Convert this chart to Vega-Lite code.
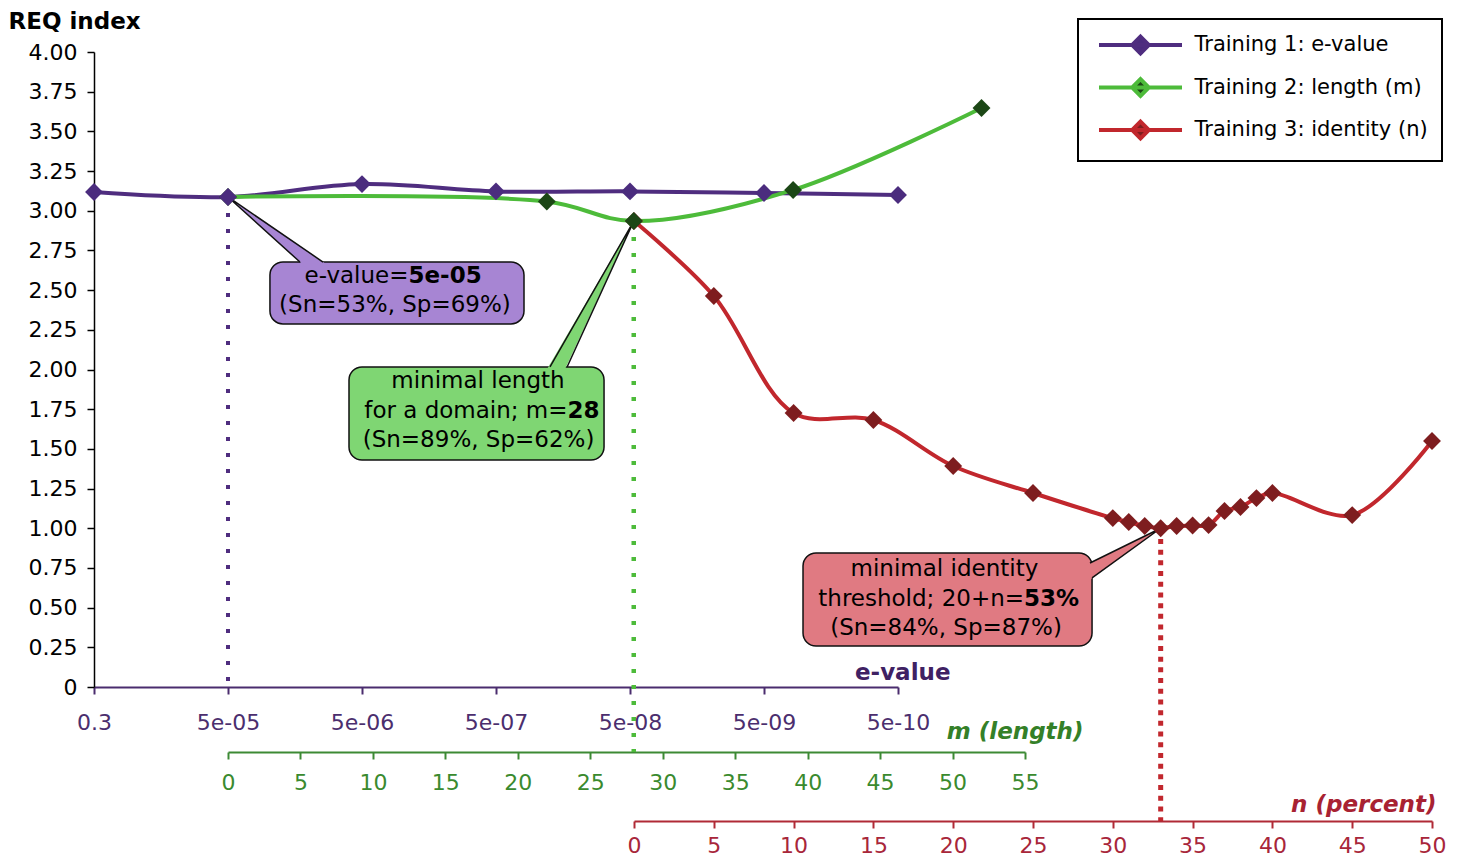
{
  "$schema": "https://vega.github.io/schema/vega-lite/v6.json",
  "width": 1338,
  "height": 635,
  "autosize": {"type": "none"},
  "padding": {"left": 94, "top": 52, "right": 26, "bottom": 171},
  "background": "white",
  "config": {
    "view": {"stroke": null},
    "font": "DejaVu Sans",
    "axis": {"grid": false},
    "axisY": {"tickSize": 7, "tickWidth": 1.5, "tickColor": "black", "domainColor": "black", "domainWidth": 1.5,
      "labelColor": "black", "labelFontSize": 22, "labelPadding": 10, "labelFlush": false, "labelOverlap": false,
      "titleAngle": 0, "titleAlign": "left", "titleX": -86, "titleY": -24,
      "titleBaseline": "alphabetic", "titleFontSize": 23, "titleFontWeight": "bold", "titleColor": "black"}
  },
  "datasets": {
    "t1": [
      {"ei": 0, "req": 3.118, "series": "Training 1: e-value"},
      {"ei": 1, "req": 3.087, "series": "Training 1: e-value"},
      {"ei": 2, "req": 3.168, "series": "Training 1: e-value"},
      {"ei": 3, "req": 3.122, "series": "Training 1: e-value"},
      {"ei": 4, "req": 3.122, "series": "Training 1: e-value"},
      {"ei": 5, "req": 3.112, "series": "Training 1: e-value"},
      {"ei": 6, "req": 3.099, "series": "Training 1: e-value"}
    ],
    "t2": [
      {"m": 0, "req": 3.087, "series": "Training 2: length (m)"},
      {"m": 22, "req": 3.058, "series": "Training 2: length (m)"},
      {"m": 28, "req": 2.935, "series": "Training 2: length (m)"},
      {"m": 39, "req": 3.131, "series": "Training 2: length (m)"},
      {"m": 52, "req": 3.647, "series": "Training 2: length (m)"}
    ],
    "t3": [
      {"n": 0, "req": 2.935, "series": "Training 3: identity (n)"},
      {"n": 5, "req": 2.463, "series": "Training 3: identity (n)"},
      {"n": 10, "req": 1.726, "series": "Training 3: identity (n)"},
      {"n": 15, "req": 1.682, "series": "Training 3: identity (n)"},
      {"n": 20, "req": 1.392, "series": "Training 3: identity (n)"},
      {"n": 25, "req": 1.222, "series": "Training 3: identity (n)"},
      {"n": 30, "req": 1.064, "series": "Training 3: identity (n)"},
      {"n": 31, "req": 1.039, "series": "Training 3: identity (n)"},
      {"n": 32, "req": 1.014, "series": "Training 3: identity (n)"},
      {"n": 33, "req": 1.0, "series": "Training 3: identity (n)"},
      {"n": 34, "req": 1.014, "series": "Training 3: identity (n)"},
      {"n": 35, "req": 1.017, "series": "Training 3: identity (n)"},
      {"n": 36, "req": 1.02, "series": "Training 3: identity (n)"},
      {"n": 37, "req": 1.109, "series": "Training 3: identity (n)"},
      {"n": 38, "req": 1.134, "series": "Training 3: identity (n)"},
      {"n": 39, "req": 1.19, "series": "Training 3: identity (n)"},
      {"n": 40, "req": 1.222, "series": "Training 3: identity (n)"},
      {"n": 45, "req": 1.083, "series": "Training 3: identity (n)"},
      {"n": 50, "req": 1.55, "series": "Training 3: identity (n)"}
    ]
  },
  "resolve": {"scale": {"x": "independent"}, "axis": {"x": "independent"}},
  "layer": [
    {
      "data": {"name": "t3"},
      "mark": {"type": "line", "interpolate": "catmull-rom", "strokeWidth": 4},
      "encoding": {
        "x": {"field": "n", "type": "quantitative",
          "scale": {"domain": [0, 50], "range": [540, 1338], "nice": false, "zero": false},
          "axis": {"orient": "bottom", "offset": 134, "values": [0,5,10,15,20,25,30,35,40,45,50],
            "tickSize": 7, "tickWidth": 2, "tickColor": "#b02a36", "domainColor": "#b02a36", "domainWidth": 2,
            "labelColor": "#a8263a", "labelFontSize": 22, "labelPadding": 7, "labelFlush": false, "labelOverlap": false,
            "title": "n (percent)", "titleFontSize": 23, "titleFontWeight": "bold", "titleFontStyle": "italic",
            "titleColor": "#a82232", "titleAlign": "right", "titleAnchor": "end", "titleX": 1342, "titleY": -10, "titleBaseline": "alphabetic"}},
        "y": {"field": "req", "type": "quantitative", "scale": {"domain": [0, 4], "nice": false},
          "axis": {"orient": "left", "values": [0,0.25,0.5,0.75,1,1.25,1.5,1.75,2,2.25,2.5,2.75,3,3.25,3.5,3.75,4], "labelExpr": "datum.value == 0 ? '0' : format(datum.value, '.2f')", "title": "REQ index"}},
        "stroke": {"field": "series", "type": "nominal",
          "scale": {"domain": ["Training 1: e-value", "Training 2: length (m)", "Training 3: identity (n)"], "range": ["#4f2d7f", "#4dbb3a", "#c1272d"]},
          "legend": {"title": null, "orient": "none", "legendX": 984, "legendY": -33,
            "symbolType": "M-4.15,0L4.15,0M0,-0.83L0.83,0L0,0.83L-0.83,0Z", "symbolSize": 400, "symbolStrokeWidth": 4,
            "symbolOffset": 36.5,
            "labelFontSize": 21, "labelColor": "black", "labelOffset": 42, "labelLimit": 500,
            "padding": 14, "rowPadding": 8.5, "strokeColor": "black", "fillColor": "white",
            "encode": {
              "symbols": {"update": {"fill": {"signal": "scale('fill', datum.value)"}, "opacity": {"value": 1}}},
              "legend": {"update": {"strokeWidth": {"value": 2}}}
            }}}
      }
    },
    {
      "data": {"name": "t1"},
      "mark": {"type": "line", "interpolate": "catmull-rom", "strokeWidth": 4},
      "encoding": {
        "x": {"field": "ei", "type": "quantitative",
          "scale": {"domain": [0, 6], "range": [0, 804], "nice": false, "zero": false},
          "axis": {"orient": "bottom", "offset": 0, "values": [0,1,2,3,4,5,6],
            "labelExpr": "['0.3','5e-05','5e-06','5e-07','5e-08','5e-09','5e-10'][datum.value]",
            "tickSize": 7, "tickWidth": 2, "tickColor": "#4a2c6e", "domainColor": "#4a2c6e", "domainWidth": 2,
            "labelColor": "#4b2e6e", "labelFontSize": 22, "labelPadding": 18, "labelFlush": false, "labelOverlap": false,
            "title": "e-value", "titleFontSize": 23, "titleFontWeight": "bold",
            "titleColor": "#3f2163", "titleAlign": "right", "titleAnchor": "end", "titleX": 856, "titleY": -8, "titleBaseline": "alphabetic"}},
        "y": {"field": "req", "type": "quantitative", "scale": {"domain": [0, 4], "nice": false},
          "axis": {"orient": "left", "values": [0,0.25,0.5,0.75,1,1.25,1.5,1.75,2,2.25,2.5,2.75,3,3.25,3.5,3.75,4], "labelExpr": "datum.value == 0 ? '0' : format(datum.value, '.2f')", "title": "REQ index"}},
        "stroke": {"field": "series", "type": "nominal",
          "scale": {"domain": ["Training 1: e-value", "Training 2: length (m)", "Training 3: identity (n)"], "range": ["#4f2d7f", "#4dbb3a", "#c1272d"]},
          "legend": null}
      }
    },
    {
      "data": {"name": "t2"},
      "mark": {"type": "line", "interpolate": "catmull-rom", "strokeWidth": 4},
      "encoding": {
        "x": {"field": "m", "type": "quantitative",
          "scale": {"domain": [0, 55], "range": [134, 931], "nice": false, "zero": false},
          "axis": {"orient": "bottom", "offset": 65, "values": [0,5,10,15,20,25,30,35,40,45,50,55],
            "tickSize": 7, "tickWidth": 2, "tickColor": "#3d8a34", "domainColor": "#3d8a34", "domainWidth": 2,
            "labelColor": "#3a8a2e", "labelFontSize": 22, "labelPadding": 13, "labelFlush": false, "labelOverlap": false,
            "title": "m (length)", "titleFontSize": 23, "titleFontWeight": "bold", "titleFontStyle": "italic",
            "titleColor": "#348028", "titleAlign": "right", "titleAnchor": "end", "titleX": 989, "titleY": -14, "titleBaseline": "alphabetic"}},
        "y": {"field": "req", "type": "quantitative", "scale": {"domain": [0, 4], "nice": false},
          "axis": {"orient": "left", "values": [0,0.25,0.5,0.75,1,1.25,1.5,1.75,2,2.25,2.5,2.75,3,3.25,3.5,3.75,4], "labelExpr": "datum.value == 0 ? '0' : format(datum.value, '.2f')", "title": "REQ index"}},
        "stroke": {"field": "series", "type": "nominal",
          "scale": {"domain": ["Training 1: e-value", "Training 2: length (m)", "Training 3: identity (n)"], "range": ["#4f2d7f", "#4dbb3a", "#c1272d"]},
          "legend": null}
      }
    },
    {
      "data": {"values": [{"ei": 1, "top": 3.087, "bottom": 0}]},
      "mark": {"type": "rule", "color": "#4f2d7f", "strokeWidth": 4, "strokeDash": [4, 12]},
      "encoding": {
        "x": {"field": "ei", "type": "quantitative", "scale": {"domain": [0, 6], "range": [0, 804], "nice": false, "zero": false}, "axis": null},
        "y": {"field": "top", "type": "quantitative", "scale": {"domain": [0, 4], "nice": false},
          "axis": {"orient": "left", "values": [0,0.25,0.5,0.75,1,1.25,1.5,1.75,2,2.25,2.5,2.75,3,3.25,3.5,3.75,4], "labelExpr": "datum.value == 0 ? '0' : format(datum.value, '.2f')", "title": "REQ index"}},
        "y2": {"field": "bottom"}
      }
    },
    {
      "data": {"values": [{"m": 28, "top": 2.935, "bottom": -0.41}]},
      "mark": {"type": "rule", "color": "#4dbb3a", "strokeWidth": 4.5, "strokeDash": [4, 12]},
      "encoding": {
        "x": {"field": "m", "type": "quantitative", "scale": {"domain": [0, 55], "range": [134, 931], "nice": false, "zero": false}, "axis": null},
        "y": {"field": "top", "type": "quantitative", "scale": {"domain": [0, 4], "nice": false},
          "axis": {"orient": "left", "values": [0,0.25,0.5,0.75,1,1.25,1.5,1.75,2,2.25,2.5,2.75,3,3.25,3.5,3.75,4], "labelExpr": "datum.value == 0 ? '0' : format(datum.value, '.2f')", "title": "REQ index"}},
        "y2": {"field": "bottom"}
      }
    },
    {
      "data": {"values": [{"n": 33, "top": 1.0, "bottom": -0.844}]},
      "mark": {"type": "rule", "color": "#c1272d", "strokeWidth": 5, "strokeDash": [5, 5.7]},
      "encoding": {
        "x": {"field": "n", "type": "quantitative", "scale": {"domain": [0, 50], "range": [540, 1338], "nice": false, "zero": false}, "axis": null},
        "y": {"field": "top", "type": "quantitative", "scale": {"domain": [0, 4], "nice": false},
          "axis": {"orient": "left", "values": [0,0.25,0.5,0.75,1,1.25,1.5,1.75,2,2.25,2.5,2.75,3,3.25,3.5,3.75,4], "labelExpr": "datum.value == 0 ? '0' : format(datum.value, '.2f')", "title": "REQ index"}},
        "y2": {"field": "bottom"}
      }
    },
    {
      "layer": [
        {
          "data": {"values": [{"x1": 1.313, "x2": 3.209, "y1": 2.677, "y2": 2.287}]},
          "mark": {"type": "rect", "cornerRadius": 13, "fill": "#a785d3", "stroke": "#111111", "strokeWidth": 1.5},
          "encoding": {
            "x": {"field": "x1", "type": "quantitative", "scale": {"domain": [0, 6], "range": [0, 804], "nice": false, "zero": false}, "axis": null},
            "x2": {"field": "x2"},
            "y": {"field": "y1", "type": "quantitative", "scale": {"domain": [0, 4], "nice": false},
              "axis": {"orient": "left", "values": [0,0.25,0.5,0.75,1,1.25,1.5,1.75,2,2.25,2.5,2.75,3,3.25,3.5,3.75,4], "labelExpr": "datum.value == 0 ? '0' : format(datum.value, '.2f')", "title": "REQ index"}},
            "y2": {"field": "y2"}
          }
        },
        {
          "data": {"values": [{"y": 3.087, "xa": 1.0, "xb": 1.0}, {"y": 2.62, "xa": 1.612, "xb": 1.807}]},
          "mark": {"type": "area", "orient": "horizontal", "fill": "#a785d3", "opacity": 1},
          "encoding": {
            "y": {"field": "y", "type": "quantitative", "scale": {"domain": [0, 4], "nice": false},
              "axis": {"orient": "left", "values": [0,0.25,0.5,0.75,1,1.25,1.5,1.75,2,2.25,2.5,2.75,3,3.25,3.5,3.75,4], "labelExpr": "datum.value == 0 ? '0' : format(datum.value, '.2f')", "title": "REQ index"}},
            "x": {"field": "xa", "type": "quantitative", "stack": null, "scale": {"domain": [0, 6], "range": [0, 804], "nice": false, "zero": false}, "axis": null},
            "x2": {"field": "xb"}
          }
        },
        {
          "data": {"values": [{"x": 1.537, "y": 2.677, "k": 0}, {"x": 1.0, "y": 3.087, "k": 1}, {"x": 1.709, "y": 2.677, "k": 2}]},
          "mark": {"type": "line", "color": "#111111", "strokeWidth": 1.5},
          "encoding": {
            "x": {"field": "x", "type": "quantitative", "scale": {"domain": [0, 6], "range": [0, 804], "nice": false, "zero": false}, "axis": null},
            "y": {"field": "y", "type": "quantitative", "scale": {"domain": [0, 4], "nice": false},
              "axis": {"orient": "left", "values": [0,0.25,0.5,0.75,1,1.25,1.5,1.75,2,2.25,2.5,2.75,3,3.25,3.5,3.75,4], "labelExpr": "datum.value == 0 ? '0' : format(datum.value, '.2f')", "title": "REQ index"}},
            "order": {"field": "k"}
          }
        },
        {
          "data": {"values": [{"x": 2.246, "y": 2.406, "t": "(Sn=53%, Sp=69%)"}]},
          "mark": {"type": "text", "fontSize": 23, "align": "center", "baseline": "middle", "color": "black"},
          "encoding": {
            "x": {"field": "x", "type": "quantitative", "scale": {"domain": [0, 6], "range": [0, 804], "nice": false, "zero": false}, "axis": null},
            "y": {"field": "y", "type": "quantitative", "scale": {"domain": [0, 4], "nice": false},
              "axis": {"orient": "left", "values": [0,0.25,0.5,0.75,1,1.25,1.5,1.75,2,2.25,2.5,2.75,3,3.25,3.5,3.75,4], "labelExpr": "datum.value == 0 ? '0' : format(datum.value, '.2f')", "title": "REQ index"}},
            "text": {"field": "t"}
          }
        },
        {
          "data": {"values": [{"x": 2.347, "y": 2.589, "t": "e-value="}]},
          "mark": {"type": "text", "fontSize": 23, "align": "right", "baseline": "middle", "color": "black"},
          "encoding": {
            "x": {"field": "x", "type": "quantitative", "scale": {"domain": [0, 6], "range": [0, 804], "nice": false, "zero": false}, "axis": null},
            "y": {"field": "y", "type": "quantitative", "scale": {"domain": [0, 4], "nice": false},
              "axis": {"orient": "left", "values": [0,0.25,0.5,0.75,1,1.25,1.5,1.75,2,2.25,2.5,2.75,3,3.25,3.5,3.75,4], "labelExpr": "datum.value == 0 ? '0' : format(datum.value, '.2f')", "title": "REQ index"}},
            "text": {"field": "t"}
          }
        },
        {
          "data": {"values": [{"x": 2.347, "y": 2.589, "t": "5e-05"}]},
          "mark": {"type": "text", "fontSize": 23, "fontWeight": "bold", "align": "left", "baseline": "middle", "color": "black"},
          "encoding": {
            "x": {"field": "x", "type": "quantitative", "scale": {"domain": [0, 6], "range": [0, 804], "nice": false, "zero": false}, "axis": null},
            "y": {"field": "y", "type": "quantitative", "scale": {"domain": [0, 4], "nice": false},
              "axis": {"orient": "left", "values": [0,0.25,0.5,0.75,1,1.25,1.5,1.75,2,2.25,2.5,2.75,3,3.25,3.5,3.75,4], "labelExpr": "datum.value == 0 ? '0' : format(datum.value, '.2f')", "title": "REQ index"}},
            "text": {"field": "t"}
          }
        }
      ]
    },
    {
      "layer": [
        {
          "data": {"values": [{"x1": 8.35, "x2": 25.95, "y1": 2.016, "y2": 1.43}]},
          "mark": {"type": "rect", "cornerRadius": 13, "fill": "#7fd673", "stroke": "#111111", "strokeWidth": 1.5},
          "encoding": {
            "x": {"field": "x1", "type": "quantitative", "scale": {"domain": [0, 55], "range": [134, 931], "nice": false, "zero": false}, "axis": null},
            "x2": {"field": "x2"},
            "y": {"field": "y1", "type": "quantitative", "scale": {"domain": [0, 4], "nice": false},
              "axis": {"orient": "left", "values": [0,0.25,0.5,0.75,1,1.25,1.5,1.75,2,2.25,2.5,2.75,3,3.25,3.5,3.75,4], "labelExpr": "datum.value == 0 ? '0' : format(datum.value, '.2f')", "title": "REQ index"}},
            "y2": {"field": "y2"}
          }
        },
        {
          "data": {"values": [{"y": 2.935, "xa": 28, "xb": 28}, {"y": 1.959, "xa": 21.74, "xb": 23.04}]},
          "mark": {"type": "area", "orient": "horizontal", "fill": "#7fd673", "opacity": 1},
          "encoding": {
            "y": {"field": "y", "type": "quantitative", "scale": {"domain": [0, 4], "nice": false},
              "axis": {"orient": "left", "values": [0,0.25,0.5,0.75,1,1.25,1.5,1.75,2,2.25,2.5,2.75,3,3.25,3.5,3.75,4], "labelExpr": "datum.value == 0 ? '0' : format(datum.value, '.2f')", "title": "REQ index"}},
            "x": {"field": "xa", "type": "quantitative", "stack": null, "scale": {"domain": [0, 55], "range": [134, 931], "nice": false, "zero": false}, "axis": null},
            "x2": {"field": "xb"}
          }
        },
        {
          "data": {"values": [{"x": 22.22, "y": 2.016, "k": 0}, {"x": 28, "y": 2.935, "k": 1}, {"x": 23.4, "y": 2.016, "k": 2}]},
          "mark": {"type": "line", "color": "#111111", "strokeWidth": 1.5},
          "encoding": {
            "x": {"field": "x", "type": "quantitative", "scale": {"domain": [0, 55], "range": [134, 931], "nice": false, "zero": false}, "axis": null},
            "y": {"field": "y", "type": "quantitative", "scale": {"domain": [0, 4], "nice": false},
              "axis": {"orient": "left", "values": [0,0.25,0.5,0.75,1,1.25,1.5,1.75,2,2.25,2.5,2.75,3,3.25,3.5,3.75,4], "labelExpr": "datum.value == 0 ? '0' : format(datum.value, '.2f')", "title": "REQ index"}},
            "order": {"field": "k"}
          }
        },
        {
          "data": {"values": [{"x": 17.25, "y": 1.928, "t": "minimal length"}, {"x": 17.29, "y": 1.556, "t": "(Sn=89%, Sp=62%)"}]},
          "mark": {"type": "text", "fontSize": 23, "align": "center", "baseline": "middle", "color": "black"},
          "encoding": {
            "x": {"field": "x", "type": "quantitative", "scale": {"domain": [0, 55], "range": [134, 931], "nice": false, "zero": false}, "axis": null},
            "y": {"field": "y", "type": "quantitative", "scale": {"domain": [0, 4], "nice": false},
              "axis": {"orient": "left", "values": [0,0.25,0.5,0.75,1,1.25,1.5,1.75,2,2.25,2.5,2.75,3,3.25,3.5,3.75,4], "labelExpr": "datum.value == 0 ? '0' : format(datum.value, '.2f')", "title": "REQ index"}},
            "text": {"field": "t"}
          }
        },
        {
          "data": {"values": [{"x": 23.43, "y": 1.739, "t": "for a domain; m="}]},
          "mark": {"type": "text", "fontSize": 23, "align": "right", "baseline": "middle", "color": "black"},
          "encoding": {
            "x": {"field": "x", "type": "quantitative", "scale": {"domain": [0, 55], "range": [134, 931], "nice": false, "zero": false}, "axis": null},
            "y": {"field": "y", "type": "quantitative", "scale": {"domain": [0, 4], "nice": false},
              "axis": {"orient": "left", "values": [0,0.25,0.5,0.75,1,1.25,1.5,1.75,2,2.25,2.5,2.75,3,3.25,3.5,3.75,4], "labelExpr": "datum.value == 0 ? '0' : format(datum.value, '.2f')", "title": "REQ index"}},
            "text": {"field": "t"}
          }
        },
        {
          "data": {"values": [{"x": 23.43, "y": 1.739, "t": "28"}]},
          "mark": {"type": "text", "fontSize": 23, "fontWeight": "bold", "align": "left", "baseline": "middle", "color": "black"},
          "encoding": {
            "x": {"field": "x", "type": "quantitative", "scale": {"domain": [0, 55], "range": [134, 931], "nice": false, "zero": false}, "axis": null},
            "y": {"field": "y", "type": "quantitative", "scale": {"domain": [0, 4], "nice": false},
              "axis": {"orient": "left", "values": [0,0.25,0.5,0.75,1,1.25,1.5,1.75,2,2.25,2.5,2.75,3,3.25,3.5,3.75,4], "labelExpr": "datum.value == 0 ? '0' : format(datum.value, '.2f')", "title": "REQ index"}},
            "text": {"field": "t"}
          }
        }
      ]
    },
    {
      "layer": [
        {
          "data": {"values": [{"x1": 10.59, "x2": 28.7, "y1": 0.844, "y2": 0.258}]},
          "mark": {"type": "rect", "cornerRadius": 13, "fill": "#e07a82", "stroke": "#111111", "strokeWidth": 1.5},
          "encoding": {
            "x": {"field": "x1", "type": "quantitative", "scale": {"domain": [0, 50], "range": [540, 1338], "nice": false, "zero": false}, "axis": null},
            "x2": {"field": "x2"},
            "y": {"field": "y1", "type": "quantitative", "scale": {"domain": [0, 4], "nice": false},
              "axis": {"orient": "left", "values": [0,0.25,0.5,0.75,1,1.25,1.5,1.75,2,2.25,2.5,2.75,3,3.25,3.5,3.75,4], "labelExpr": "datum.value == 0 ? '0' : format(datum.value, '.2f')", "title": "REQ index"}},
            "y2": {"field": "y2"}
          }
        },
        {
          "data": {"values": [{"x": 28.07, "ya": 0.756, "yb": 0.64}, {"x": 33, "ya": 1.0, "yb": 1.0}]},
          "mark": {"type": "area", "orient": "vertical", "fill": "#e07a82", "opacity": 1},
          "encoding": {
            "x": {"field": "x", "type": "quantitative", "scale": {"domain": [0, 50], "range": [540, 1338], "nice": false, "zero": false}, "axis": null},
            "y": {"field": "ya", "type": "quantitative", "stack": null, "scale": {"domain": [0, 4], "nice": false},
              "axis": {"orient": "left", "values": [0,0.25,0.5,0.75,1,1.25,1.5,1.75,2,2.25,2.5,2.75,3,3.25,3.5,3.75,4], "labelExpr": "datum.value == 0 ? '0' : format(datum.value, '.2f')", "title": "REQ index"}},
            "y2": {"field": "yb"}
          }
        },
        {
          "data": {"values": [{"x": 28.57, "y": 0.781, "k": 0}, {"x": 33, "y": 1.0, "k": 1}, {"x": 28.7, "y": 0.687, "k": 2}]},
          "mark": {"type": "line", "color": "#111111", "strokeWidth": 1.5},
          "encoding": {
            "x": {"field": "x", "type": "quantitative", "scale": {"domain": [0, 50], "range": [540, 1338], "nice": false, "zero": false}, "axis": null},
            "y": {"field": "y", "type": "quantitative", "scale": {"domain": [0, 4], "nice": false},
              "axis": {"orient": "left", "values": [0,0.25,0.5,0.75,1,1.25,1.5,1.75,2,2.25,2.5,2.75,3,3.25,3.5,3.75,4], "labelExpr": "datum.value == 0 ? '0' : format(datum.value, '.2f')", "title": "REQ index"}},
            "order": {"field": "k"}
          }
        },
        {
          "data": {"values": [{"x": 19.45, "y": 0.743, "t": "minimal identity"}, {"x": 19.55, "y": 0.372, "t": "(Sn=84%, Sp=87%)"}]},
          "mark": {"type": "text", "fontSize": 23, "align": "center", "baseline": "middle", "color": "black"},
          "encoding": {
            "x": {"field": "x", "type": "quantitative", "scale": {"domain": [0, 50], "range": [540, 1338], "nice": false, "zero": false}, "axis": null},
            "y": {"field": "y", "type": "quantitative", "scale": {"domain": [0, 4], "nice": false},
              "axis": {"orient": "left", "values": [0,0.25,0.5,0.75,1,1.25,1.5,1.75,2,2.25,2.5,2.75,3,3.25,3.5,3.75,4], "labelExpr": "datum.value == 0 ? '0' : format(datum.value, '.2f')", "title": "REQ index"}},
            "text": {"field": "t"}
          }
        },
        {
          "data": {"values": [{"x": 24.44, "y": 0.554, "t": "threshold; 20+n="}]},
          "mark": {"type": "text", "fontSize": 23, "align": "right", "baseline": "middle", "color": "black"},
          "encoding": {
            "x": {"field": "x", "type": "quantitative", "scale": {"domain": [0, 50], "range": [540, 1338], "nice": false, "zero": false}, "axis": null},
            "y": {"field": "y", "type": "quantitative", "scale": {"domain": [0, 4], "nice": false},
              "axis": {"orient": "left", "values": [0,0.25,0.5,0.75,1,1.25,1.5,1.75,2,2.25,2.5,2.75,3,3.25,3.5,3.75,4], "labelExpr": "datum.value == 0 ? '0' : format(datum.value, '.2f')", "title": "REQ index"}},
            "text": {"field": "t"}
          }
        },
        {
          "data": {"values": [{"x": 24.44, "y": 0.554, "t": "53%"}]},
          "mark": {"type": "text", "fontSize": 23, "fontWeight": "bold", "align": "left", "baseline": "middle", "color": "black"},
          "encoding": {
            "x": {"field": "x", "type": "quantitative", "scale": {"domain": [0, 50], "range": [540, 1338], "nice": false, "zero": false}, "axis": null},
            "y": {"field": "y", "type": "quantitative", "scale": {"domain": [0, 4], "nice": false},
              "axis": {"orient": "left", "values": [0,0.25,0.5,0.75,1,1.25,1.5,1.75,2,2.25,2.5,2.75,3,3.25,3.5,3.75,4], "labelExpr": "datum.value == 0 ? '0' : format(datum.value, '.2f')", "title": "REQ index"}},
            "text": {"field": "t"}
          }
        }
      ]
    },
    {
      "data": {"name": "t3"},
      "mark": {"type": "point", "shape": "diamond", "size": 320, "filled": true, "opacity": 1},
      "encoding": {
        "x": {"field": "n", "type": "quantitative", "scale": {"domain": [0, 50], "range": [540, 1338], "nice": false, "zero": false}, "axis": null},
        "y": {"field": "req", "type": "quantitative", "scale": {"domain": [0, 4], "nice": false},
          "axis": {"orient": "left", "values": [0,0.25,0.5,0.75,1,1.25,1.5,1.75,2,2.25,2.5,2.75,3,3.25,3.5,3.75,4], "labelExpr": "datum.value == 0 ? '0' : format(datum.value, '.2f')", "title": "REQ index"}},
        "fill": {"field": "series", "type": "nominal",
          "scale": {"domain": ["Training 1: e-value", "Training 2: length (m)", "Training 3: identity (n)"], "range": ["#4b2c7e", "#1c4716", "#7e1d1f"]},
          "legend": null}
      }
    },
    {
      "data": {"name": "t2"},
      "mark": {"type": "point", "shape": "diamond", "size": 320, "filled": true, "opacity": 1},
      "encoding": {
        "x": {"field": "m", "type": "quantitative", "scale": {"domain": [0, 55], "range": [134, 931], "nice": false, "zero": false}, "axis": null},
        "y": {"field": "req", "type": "quantitative", "scale": {"domain": [0, 4], "nice": false},
          "axis": {"orient": "left", "values": [0,0.25,0.5,0.75,1,1.25,1.5,1.75,2,2.25,2.5,2.75,3,3.25,3.5,3.75,4], "labelExpr": "datum.value == 0 ? '0' : format(datum.value, '.2f')", "title": "REQ index"}},
        "fill": {"field": "series", "type": "nominal",
          "scale": {"domain": ["Training 1: e-value", "Training 2: length (m)", "Training 3: identity (n)"], "range": ["#4b2c7e", "#1c4716", "#7e1d1f"]},
          "legend": null}
      }
    },
    {
      "data": {"name": "t1"},
      "mark": {"type": "point", "shape": "diamond", "size": 320, "filled": true, "opacity": 1},
      "encoding": {
        "x": {"field": "ei", "type": "quantitative", "scale": {"domain": [0, 6], "range": [0, 804], "nice": false, "zero": false}, "axis": null},
        "y": {"field": "req", "type": "quantitative", "scale": {"domain": [0, 4], "nice": false},
          "axis": {"orient": "left", "values": [0,0.25,0.5,0.75,1,1.25,1.5,1.75,2,2.25,2.5,2.75,3,3.25,3.5,3.75,4], "labelExpr": "datum.value == 0 ? '0' : format(datum.value, '.2f')", "title": "REQ index"}},
        "fill": {"field": "series", "type": "nominal",
          "scale": {"domain": ["Training 1: e-value", "Training 2: length (m)", "Training 3: identity (n)"], "range": ["#4b2c7e", "#1c4716", "#7e1d1f"]},
          "legend": null}
      }
    }
  ]
}
